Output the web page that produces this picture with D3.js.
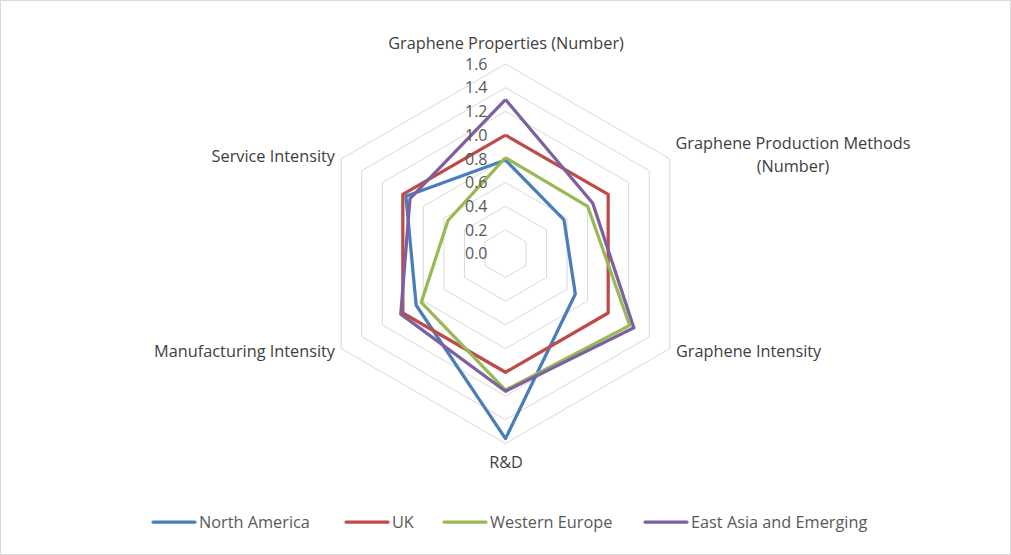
<!DOCTYPE html>
<html>
<head>
<meta charset="utf-8">
<script src="https://cdn.jsdelivr.net/npm/d3@7"></script>
<style>
  body { margin: 0; background: #fff; }
  text { font-family: "Open Sans", "Liberation Sans", sans-serif; }
</style>
</head>
<body>
<svg id="chart" width="1011" height="555"></svg>
<script>
// Axes, clockwise from the top.
const categories = [
    "Graphene Properties (Number)",
    "Graphene Production Methods (Number)",
    "Graphene Intensity",
    "R&D",
    "Manufacturing Intensity",
    "Service Intensity"
];
const seriesNames = ["North America", "UK", "Western Europe", "East Asia and Emerging"];
const seriesColors = ["#4a7ebb", "#be4b48", "#98b954", "#7d60a0"];
const northAmerica = [0.79, 0.57, 0.68, 1.56, 0.87, 0.97];
const uk = [1.0, 1.0, 1.0, 1.0, 1.0, 1.0];
const westernEurope = [0.81, 0.80, 1.21, 1.15, 0.82, 0.56];
const eastAsia = [1.3, 0.85, 1.25, 1.16, 1.02, 0.93];
const tickValues = [0, 0.2, 0.4, 0.6, 0.8, 1.0, 1.2, 1.4, 1.6];

const seriesValues = [northAmerica, uk, westernEurope, eastAsia];

let svg = d3.select("#chart");
let width = +svg.attr("width");
let height = +svg.attr("height");

// Chart border.
svg.append("rect")
    .attr("x", 0.5).attr("y", 0.5)
    .attr("width", width - 1).attr("height", height - 1)
    .attr("fill", "#fff")
    .attr("stroke", "#d9d9d9");

let center = { x: 505.5, y: 253.7 };
let rScale = d3.scaleLinear().domain([0, 1.6]).range([0, 189.7]);
let angleOf = i => i * 2 * Math.PI / categories.length;
let pointAt = (i, v) => [
    center.x + rScale(v) * Math.sin(angleOf(i)),
    center.y - rScale(v) * Math.cos(angleOf(i))
];

let radar = svg.append("g");
let lineGen = d3.line();

// Draw grid hexagons.
tickValues.filter(t => t > 0).forEach(t => {
    let pts = categories.map((c, i) => pointAt(i, t));
    pts.push(pts[0]);
    radar.append("path")
        .attr("d", lineGen(pts))
        .attr("fill", "none")
        .attr("stroke", "#d9d9d9")
        .attr("stroke-width", 1);
});

// Draw series.
seriesValues.forEach((values, s) => {
    let pts = values.map((v, i) => pointAt(i, v));
    pts.push(pts[0]);
    radar.append("path")
        .attr("d", lineGen(pts))
        .attr("fill", "none")
        .attr("stroke", seriesColors[s])
        .attr("stroke-width", 3.25)
        .attr("stroke-linejoin", "round");
});

// Draw tick labels along the top axis.
tickValues.forEach(t => {
    radar.append("text")
        .attr("x", center.x - 18)
        .attr("y", center.y - rScale(t))
        .attr("dy", "0.36em")
        .attr("text-anchor", "end")
        .attr("fill", "#595959")
        .attr("font-size", 16)
        .text(t.toFixed(1));
});

// Draw category labels.
let labelAttr = [
    { x: 506, y: 43, anchor: "middle", lines: ["Graphene Properties (Number)"] },
    { x: 793, y: 143, anchor: "middle", lines: ["Graphene Production Methods", "(Number)"] },
    { x: 676, y: 351, anchor: "start", lines: ["Graphene Intensity"] },
    { x: 506, y: 462, anchor: "middle", lines: ["R&D"] },
    { x: 335, y: 351, anchor: "end", lines: ["Manufacturing Intensity"] },
    { x: 335, y: 156, anchor: "end", lines: ["Service Intensity"] }
];
labelAttr.forEach(l => {
    let t = radar.append("text")
        .attr("x", l.x)
        .attr("y", l.y)
        .attr("dy", "0.35em")
        .attr("text-anchor", l.anchor)
        .attr("fill", "#404040")
        .attr("font-size", 16.3);
    l.lines.forEach((line, k) => {
        t.append("tspan")
            .attr("x", l.x)
            .attr("dy", k === 0 ? "0.35em" : "1.4em")
            .text(line);
    });
});

// Draw legend.
let legendX = [153, 346, 444, 645];
let legend = svg.append("g").attr("transform", "translate(0, 522)");
seriesNames.forEach((name, s) => {
    legend.append("line")
        .attr("x1", legendX[s]).attr("x2", legendX[s] + 42)
        .attr("y1", 0).attr("y2", 0)
        .attr("stroke", seriesColors[s])
        .attr("stroke-width", 3.25)
        .style("stroke-linecap", "round");
    legend.append("text")
        .attr("x", legendX[s] + 46)
        .attr("y", 0)
        .attr("dy", "0.35em")
        .attr("fill", "#595959")
        .attr("font-size", 16.3)
        .text(name);
});
</script>
</body>
</html>
